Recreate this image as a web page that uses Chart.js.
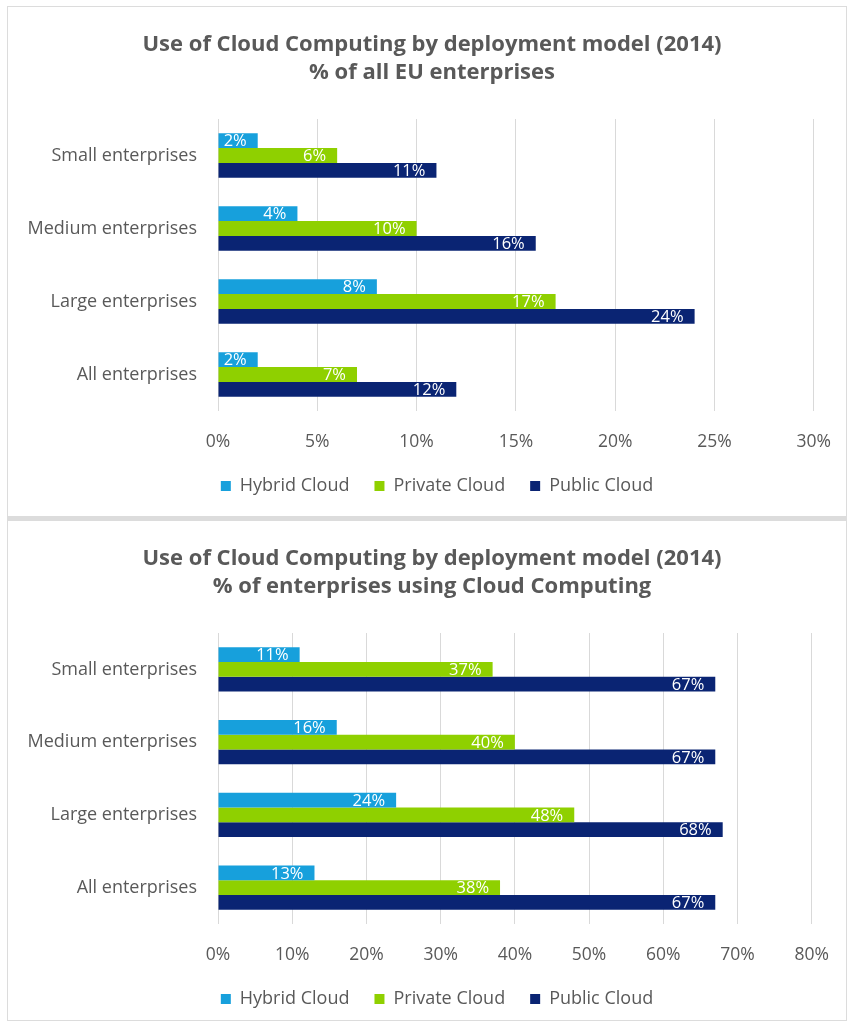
<!DOCTYPE html>
<html>
<head>
<meta charset="utf-8">
<script src="https://cdn.jsdelivr.net/npm/chart.js@4"></script>
<style>
    body { margin: 0; background: #fff; }
    .box {
        position: absolute;
        left: 7px;
        width: 840px;
        box-sizing: border-box;
        border: 1px solid #dcdcdc;
    }
    #box1 { top: 6px; height: 512px; border-bottom-width: 2px; }
    #box2 { top: 518px; height: 503px; border-top-width: 3px; }
    canvas { display: block; }
</style>
</head>
<body>
<div class="box" id="box1"><canvas id="allChart"></canvas></div>
<div class="box" id="box2"><canvas id="cloudChart"></canvas></div>

<script>
// Use of cloud computing by deployment model, 2014
const categories = ['Small enterprises', 'Medium enterprises', 'Large enterprises', 'All enterprises'];
const seriesNames = ['Hybrid Cloud', 'Private Cloud', 'Public Cloud'];
const seriesColors = ['#17a0dc', '#8fd000', '#0a2473'];

// % of all EU enterprises
const hybridAll = [2, 4, 8, 2];
const privateAll = [6, 10, 17, 7];
const publicAll = [11, 16, 24, 12];

// % of enterprises using cloud computing
const hybridUsers = [11, 16, 24, 13];
const privateUsers = [37, 40, 48, 38];
const publicUsers = [67, 67, 68, 67];

const textColor = '#595959';
const baseFont = 'Open Sans';

// white value labels just inside the end of each bar
const barValueLabels = {
    id: 'barValueLabels',
    afterDatasetsDraw(chart) {
        const ctx = chart.ctx;
        ctx.save();
        ctx.font = '16.5px "' + baseFont + '"';
        ctx.fillStyle = '#ffffff';
        ctx.textAlign = 'right';
        ctx.textBaseline = 'middle';
        chart.data.datasets.forEach((ds, i) => {
            chart.getDatasetMeta(i).data.forEach((bar, j) => {
                ctx.fillText(ds.data[j] + '%', bar.x - 11, bar.y + 1);
            });
        });
        ctx.restore();
    }
};

// title and legend sit a little right of the canvas centre
const nudgeBlocks = {
    id: 'nudgeBlocks',
    afterLayout(chart) {
        chart.titleBlock.left += 5;
        chart.titleBlock.right += 5;
        chart.legend.left += 10;
        chart.legend.right += 10;
    }
};

// tickPad also sets how much room the last x label reserves on the right
function makeChart(canvasId, height, title, values, maxValue, step, tickPad, padBottom) {
    const canvas = document.getElementById(canvasId);
    canvas.width = 838;
    canvas.height = height;

    return new Chart(canvas, {
        type: 'bar',
        data: {
            labels: categories,
            datasets: values.map((data, i) => ({
                label: seriesNames[i],
                data: data,
                backgroundColor: seriesColors[i],
                categoryPercentage: 0.61,
                barPercentage: 1.0
            }))
        },
        options: {
            indexAxis: 'y',
            responsive: false,
            animation: false,
            layout: {
                padding: { left: 0, right: 0, top: 0, bottom: padBottom }
            },
            scales: {
                x: {
                    min: 0,
                    max: maxValue,
                    ticks: {
                        stepSize: step,
                        padding: tickPad,
                        color: textColor,
                        font: { family: baseFont, size: 17.5 },
                        callback: v => v + '%'
                    },
                    grid: {
                        color: '#d9d9d9',
                        tickLength: 21 - tickPad,
                        tickColor: 'rgba(0,0,0,0)'
                    },
                    border: { display: false },
                    afterFit(scale) { scale.height = 41; }
                },
                y: {
                    ticks: {
                        padding: 13,
                        color: textColor,
                        font: { family: baseFont, size: 18 }
                    },
                    grid: { display: false },
                    border: { display: false },
                    afterFit(scale) { scale.width = 210; }
                }
            },
            plugins: {
                title: {
                    display: true,
                    text: title,
                    color: textColor,
                    font: { family: baseFont, size: 22, weight: 'bold', lineHeight: 1.25 },
                    padding: { top: 24, bottom: 33 }
                },
                legend: {
                    position: 'bottom',
                    labels: {
                        boxWidth: 10,
                        boxHeight: 10,
                        padding: 25,
                        color: textColor,
                        font: { family: baseFont, size: 18 }
                    }
                },
                tooltip: { enabled: false }
            }
        },
        plugins: [barValueLabels, nudgeBlocks]
    });
}

makeChart('allChart', 509,
    ['Use of Cloud Computing by deployment model (2014)', '% of all EU enterprises'],
    [hybridAll, privateAll, publicAll], 30, 5, 15, 11);

makeChart('cloudChart', 499,
    ['Use of Cloud Computing by deployment model (2014)', '% of enterprises using Cloud Computing'],
    [hybridUsers, privateUsers, publicUsers], 80, 10, 17, 2);
</script>
</body>
</html>
